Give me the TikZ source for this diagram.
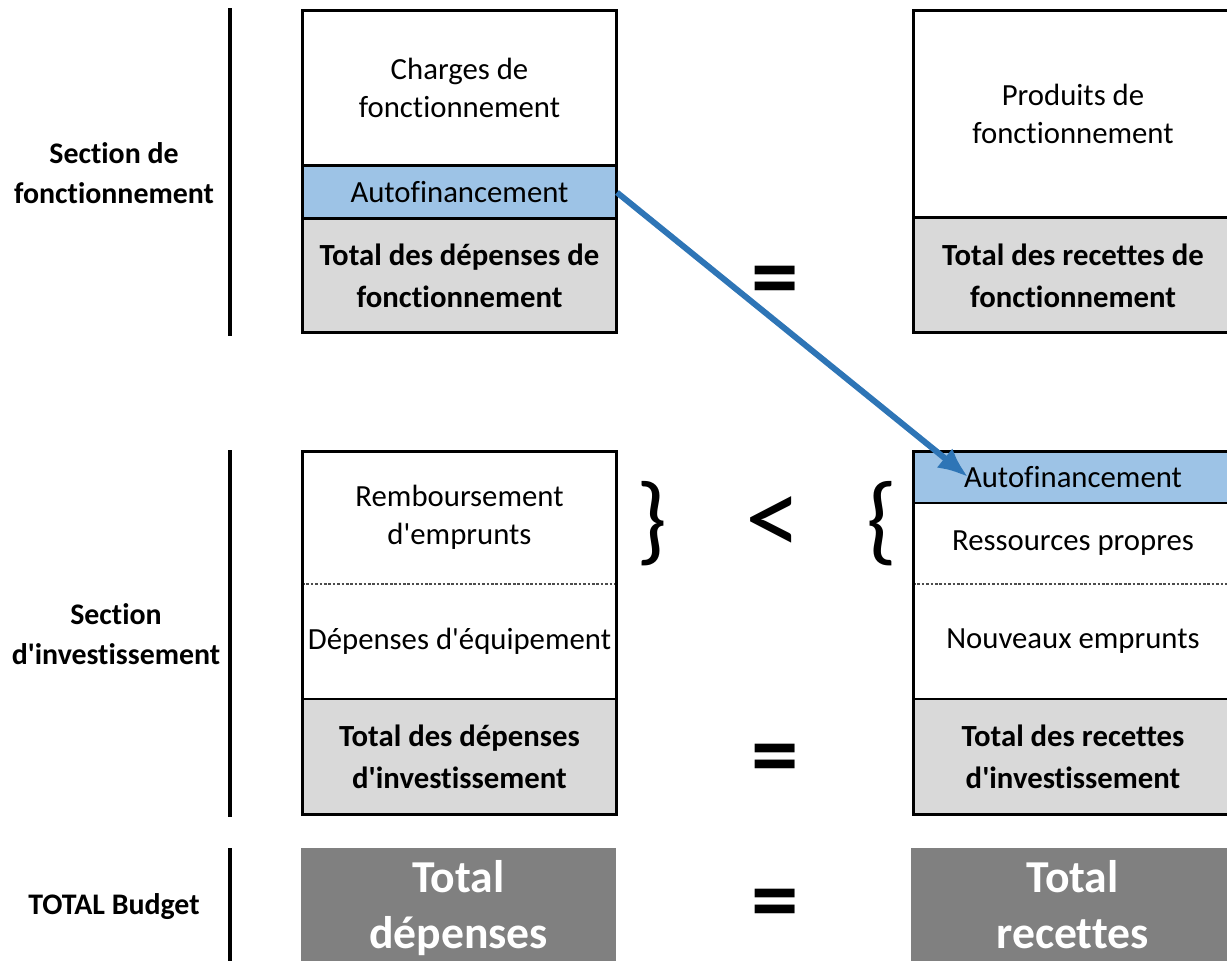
\documentclass[tikz,border=0pt]{standalone}
\usepackage{fontspec}
\setmainfont{Carlito}[Ligatures={TeXOff,NoCommon}]
\usetikzlibrary{positioning,arrows.meta}
\definecolor{bleuauto}{HTML}{9DC3E6}
\definecolor{bleufleche}{HTML}{2E75B6}
\definecolor{grisclair}{HTML}{D9D9D9}
\definecolor{grisfonce}{HTML}{808080}

\begin{document}
\begin{tikzpicture}[x=0.02cm, y=-0.02cm]
		\tikzstyle{cell}=[rectangle, minimum width=6.3cm, inner sep=0pt, outer sep=0pt, align=center, font=\fontsize{17.5}{21.5}\selectfont]
		\tikzstyle{cellR}=[cell, minimum width=6.4cm]
		\tikzstyle{autof}=[fill=bleuauto]
		\tikzstyle{tot}=[fill=grisclair, font=\fontsize{17.5}{24}\selectfont\bfseries]
		\tikzstyle{grand}=[cell, fill=grisfonce, text=white, minimum height=2.6cm, font=\fontsize{26}{32}\selectfont\bfseries]
		\tikzstyle{titre}=[align=center, font=\fontsize{17}{23}\selectfont\bfseries]
		\tikzstyle{sym}=[inner sep=0pt, font=\fontsize{56}{60}\selectfont]
		\tikzstyle{egal}=[inner sep=0pt, font=\fontsize{54}{58}\selectfont\bfseries]
		\tikzstyle{cadre}=[line width=1.7pt]
		\tikzstyle{trait}=[line width=2pt]
		\tikzstyle{pointille}=[line width=0.7pt, black!70, dash pattern=on 1.5pt off 1pt]
		\tikzstyle{connect}=[-{Latex[length=6mm,width=5mm]}, line width=3.4pt, bleufleche]
		\useasboundingbox (0,0) rectangle (1227,960);
		
		% section de fonctionnement
		\node[cell, minimum height=3.12cm] (charges) at (459.5,88) {Charges de\\fonctionnement};
		\node[cell, autof, minimum height=1.06cm, below=0pt of charges] (autoD) {Autofinancement};
		\node[cell, tot, minimum height=2.28cm, below=0pt of autoD] (totDF) {Total des dépenses de\\fonctionnement};
		
		\node[cellR, minimum height=4.16cm] (produits) at (1073,114) {Produits de\\fonctionnement};
		\node[cellR, tot, minimum height=2.3cm, below=0pt of produits] (totRF) {Total des recettes de\\fonctionnement};
		
		\draw[cadre] (charges.north west) rectangle (totDF.south east);
		\draw[cadre] (charges.south west) -- (charges.south east);
		\draw[cadre] (autoD.south west) -- (autoD.south east);
		\draw[cadre] (produits.north west) rectangle (totRF.south east);
		\draw[cadre] (produits.south west) -- (produits.south east);
		
		% section d'investissement
		\node[cell, minimum height=2.66cm] (rembours) at (459.5,517.5) {Remboursement\\d'emprunts};
		\node[cell, minimum height=2.3cm, below=0pt of rembours] (equip) {Dépenses d'équipement};
		\node[cell, tot, minimum height=2.32cm, below=0pt of equip] (totDI) {Total des dépenses\\d'investissement};
		
		\node[cellR, autof, minimum height=1.04cm] (autoR) at (1073,477) {Autofinancement};
		\node[cellR, minimum height=1.62cm, below=0pt of autoR] (propres) {Ressources propres};
		\node[cellR, minimum height=2.3cm, below=0pt of propres] (nouveaux) {Nouveaux emprunts};
		\node[cellR, tot, minimum height=2.32cm, below=0pt of nouveaux] (totRI) {Total des recettes\\d'investissement};
		
		\draw[pointille] (rembours.south west) -- (rembours.south east);
		\draw[line width=1pt] (equip.south west) -- (equip.south east);
		\draw[cadre] (rembours.north west) rectangle (totDI.south east);
		\draw[cadre] (autoR.south west) -- (autoR.south east);
		\draw[pointille] (propres.south west) -- (propres.south east);
		\draw[line width=1pt] (nouveaux.south west) -- (nouveaux.south east);
		\draw[cadre] (autoR.north west) rectangle (totRI.south east);
		
		% total
		\node[grand] (totD) at (458.5,913) {Total\\dépenses\strut};
		\node[grand, minimum width=6.45cm] (totR) at (1072.5,913) {Total\\recettes\strut};
		
		% titres
		\node[titre] (secF) at (114,173) {Section de\\fonctionnement};
		\node[titre] (secI) at (116,634) {Section\\d'investissement};
		\node[titre] (secT) at (114,907) {TOTAL Budget};
		\draw[trait] (230,8) -- (230,336);
		\draw[trait] (230,450) -- (230,817);
		\draw[trait] (230,848) -- (230,965);
		
		% signes
		\node[egal] (egalF) at (775,287) {=};
		\node[egal] (egalI) at (775,765) {=};
		\node[egal] (egalT) at (775,910) {=};
		\node[sym] (accD) at (652,524) {\}};
		\node[sym, font=\fontsize{64}{68}\selectfont] (infer) at (773,526) {<};
		\node[sym] (accG) at (882,524) {\{};
		
		\coordinate (pointe) at ([xshift=1.1cm]autoR.west);
		\draw[connect] (autoD.east) -- (pointe);
\end{tikzpicture}
\end{document}
